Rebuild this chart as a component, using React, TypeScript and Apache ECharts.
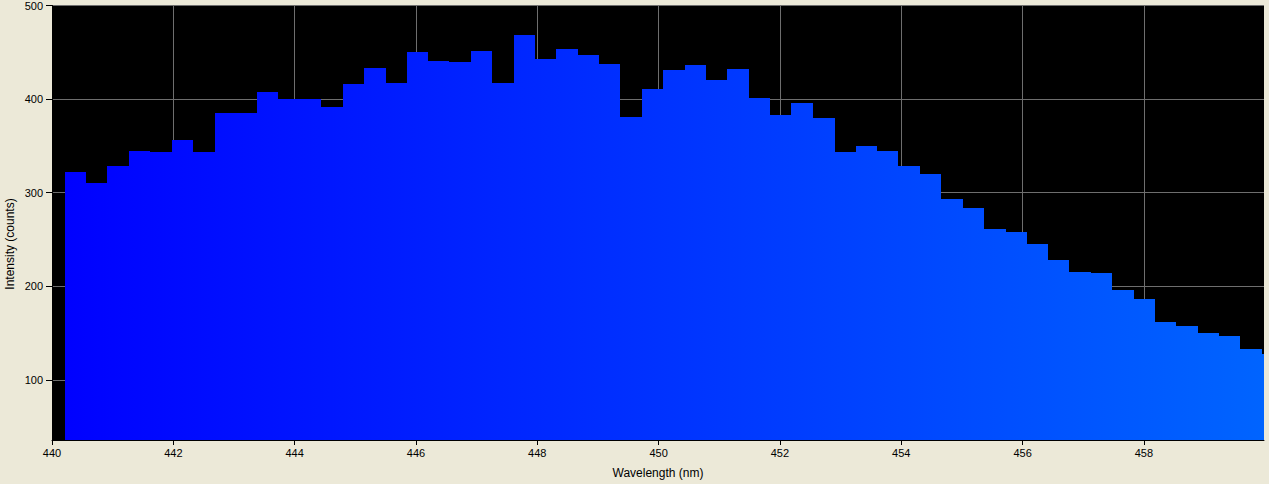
import React, { useEffect, useRef } from "react";
import * as echarts from "echarts";

// Left edge (nm) of each spectrometer bin
const wavelengths = [
  440.21, 440.56, 440.91, 441.27, 441.62, 441.97, 442.32, 442.68, 443.03, 443.38,
  443.73, 444.09, 444.44, 444.79, 445.14, 445.5, 445.85, 446.2, 446.55, 446.91,
  447.26, 447.61, 447.96, 448.31, 448.67, 449.02, 449.37, 449.72, 450.08, 450.43,
  450.78, 451.13, 451.49, 451.84, 452.19, 452.54, 452.9, 453.25, 453.6, 453.95,
  454.31, 454.66, 455.01, 455.36, 455.72, 456.07, 456.42, 456.77, 457.12, 457.48,
  457.83, 458.18, 458.53, 458.89, 459.24, 459.59, 459.94,
];

// Intensity (counts) per bin
const intensities = [
  322, 310, 328, 345, 343, 356, 343, 385, 385, 408,
  400, 400, 392, 416, 433, 417, 450, 441, 440, 451,
  417, 469, 443, 453, 447, 437, 381, 411, 431, 436,
  420, 432, 401, 383, 396, 380, 343, 350, 345, 329,
  320, 293, 284, 261, 258, 245, 228, 215, 214, 196,
  186, 162, 158, 150, 147, 133, 128,
];

const yTicks = [100, 200, 300, 400, 500];
const xMin = 440;
const xMax = 459.98;
const yMin = 35.8;
const yMax = 500;

export default function App() {
  const ref = useRef<HTMLDivElement>(null);

  useEffect(() => {
    if (!ref.current) return;
    const chart = echarts.init(ref.current, null, { renderer: "svg" });

    const data = wavelengths.map((w, i) => {
      const next =
        i < wavelengths.length - 1
          ? wavelengths[i + 1]
          : w + (w - wavelengths[i - 1]);
      return [w, next, intensities[i]];
    });

    const gridLeft = 52;
    const gridRight = 5;
    const width = 1269;
    const fill = new echarts.graphic.LinearGradient(
      gridLeft,
      0,
      width - gridRight,
      0,
      [
        { offset: 0, color: "#0000ff" },
        { offset: 1, color: "#0064ff" },
      ],
      true
    );

    const font = "Liberation Sans, Arial, sans-serif";

    chart.setOption({
      animation: false,
      backgroundColor: "#ece9d8",
      grid: {
        left: gridLeft,
        right: gridRight,
        top: 2,
        bottom: 43,
        show: true,
        backgroundColor: "#000000",
        borderWidth: 0,
      },
      xAxis: {
        type: "value",
        min: xMin,
        max: xMax,
        interval: 2,
        name: "Wavelength (nm)",
        nameLocation: "middle",
        nameGap: 27,
        nameTextStyle: { color: "#000", fontSize: 12, fontFamily: font },
        axisLine: { show: true, lineStyle: { color: "#000", width: 1 } },
        axisTick: { show: true, length: 5, lineStyle: { color: "#000" } },
        axisLabel: {
          color: "#000",
          fontSize: 11,
          fontFamily: font,
          margin: 7,
          showMaxLabel: false,
        },
        splitLine: {
          show: true,
          showMinLine: false,
          showMaxLine: false,
          lineStyle: { color: "#6e6e6e", width: 1 },
        },
      },
      yAxis: {
        type: "value",
        min: yMin,
        max: yMax,
        axisLine: { show: true, lineStyle: { color: "#000", width: 1 } },
        axisTick: {
          show: true,
          length: 6,
          lineStyle: { color: "#000" },
          customValues: yTicks,
        },
        axisLabel: {
          color: "#000",
          fontSize: 11,
          fontFamily: font,
          margin: 9,
          customValues: yTicks,
        },
        splitLine: {
          show: true,
          lineStyle: { color: "#6e6e6e", width: 1 },
        },
      },
      graphic: [
        {
          type: "text",
          x: 10,
          y: 244,
          rotation: Math.PI / 2,
          style: {
            text: "Intensity (counts)",
            fill: "#000",
            font: `12px ${font}`,
            textAlign: "center",
            textVerticalAlign: "middle",
          },
        },
      ],
      series: [
        {
          type: "custom",
          clip: true,
          data,
          encode: { x: [0, 1], y: 2 },
          renderItem: (params: any, api: any) => {
            const x0 = api.value(0);
            const x1 = api.value(1);
            const v = api.value(2);
            const p0 = api.coord([x0, v]);
            const p1 = api.coord([x1, yMin]);
            const left = Math.round(p0[0]);
            const right = Math.round(p1[0]);
            const top = Math.round(p0[1]);
            const bottom = Math.round(p1[1]);
            return {
              type: "rect",
              shape: { x: left, y: top, width: right - left, height: bottom - top },
              style: { fill },
            };
          },
          z: 1,
        },
      ],
    });

    return () => chart.dispose();
  }, []);

  return (
    <div
      ref={ref}
      style={{ position: "fixed", left: 0, top: 0, width: 1269, height: 484 }}
    />
  );
}
